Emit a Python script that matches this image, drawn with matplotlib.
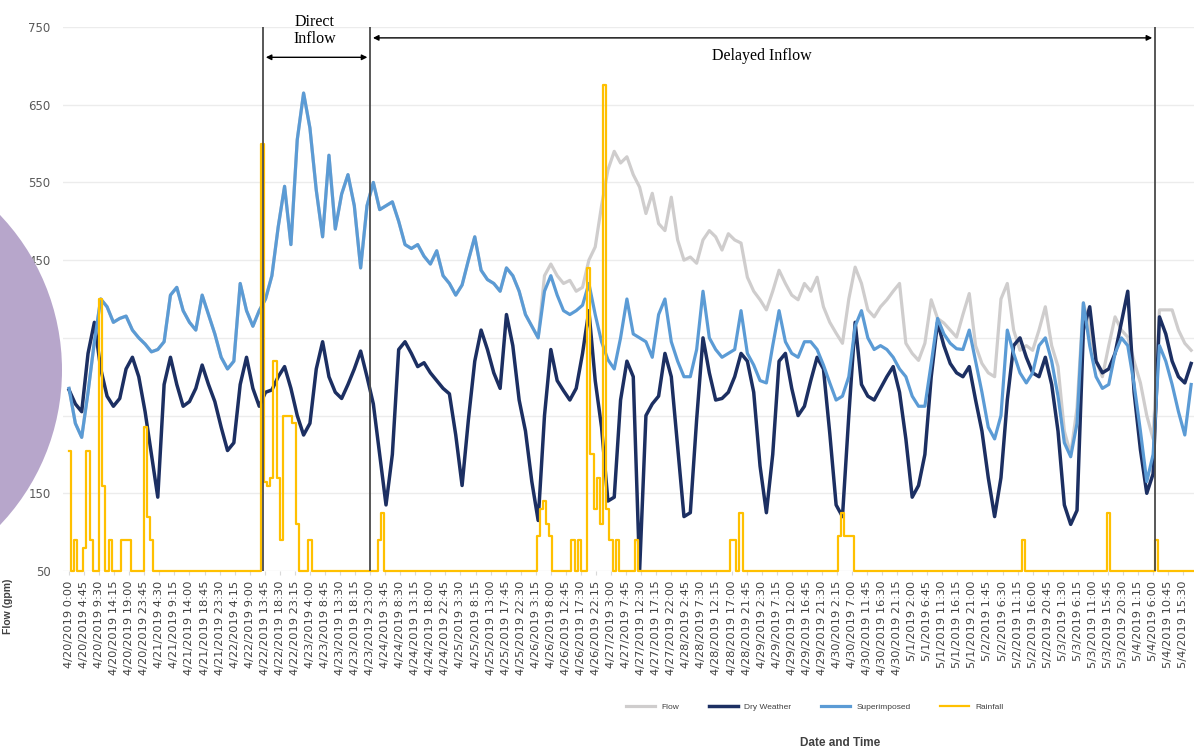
import numpy as np
import pandas as pd
import matplotlib
matplotlib.use("Agg")
import matplotlib.pyplot as plt
from matplotlib.patches import Ellipse

# hours since 4/20/2019 0:00, one reading every 2 hours
hours = np.arange(0, 356, 2)

dry_weather = [
    283, 265, 255, 330, 370, 310, 275, 262, 272, 310,
    325, 300, 255, 200, 145, 290, 325, 290, 262, 268,
    285, 315, 290, 268, 235, 205, 215, 290, 325, 285,
    262, 280, 283, 300, 313, 285, 250, 225, 240, 310,
    345, 300, 280, 272, 290, 310, 333, 300, 265, 200,
    135, 200, 335, 345, 330, 313, 318, 305, 295, 285,
    278, 225, 160, 245, 320, 360, 335, 305, 285, 380,
    340, 270, 230, 165, 115, 250, 335, 295, 282, 270,
    285, 330, 385, 295, 235, 140, 145, 270, 320, 300,
    50, 250, 265, 275, 330, 300, 210, 120, 125, 245,
    350, 305, 270, 272, 280, 300, 330, 320, 280, 185,
    125, 200, 320, 330, 285, 250, 262, 295, 325, 310,
    227, 135, 120, 250, 370, 290, 275, 270, 285, 300,
    313, 280, 220, 145, 160, 200, 300, 370, 340, 317,
    305, 300, 313, 270, 230, 170, 120, 170, 270, 340,
    350, 325, 305, 300, 325, 290, 230, 135, 110, 128,
    360, 390, 320, 305, 310, 330, 370, 410, 280, 206,
    150, 175, 377, 355, 320, 300, 292, 317,
]

superimposed = [
    285, 240, 222, 280, 345, 400, 390, 370, 375, 378,
    360, 350, 342, 332, 335, 345, 405, 415, 385, 370,
    360, 405, 380, 355, 325, 310, 320, 420, 385, 365,
    385, 400, 430, 493, 545, 470, 605, 665, 620, 540,
    480, 585, 490, 535, 560, 520, 440, 520, 550, 515,
    520, 525, 500, 470, 465, 470, 455, 445, 462, 430,
    420, 405, 418, 450, 480, 437, 425, 420, 410, 440,
    430, 410, 380, 365, 350, 410, 430, 405, 385, 380,
    385, 392, 420, 380, 345, 322, 310, 350, 400, 355,
    350, 345, 325, 380, 400, 345, 320, 300, 300, 335,
    410, 350, 335, 325, 330, 335, 385, 330, 315, 295,
    292, 340, 385, 345, 330, 325, 345, 345, 335, 315,
    292, 270, 275, 300, 365, 385, 350, 335, 340, 335,
    325, 310, 300, 275, 262, 262, 317, 375, 355, 343,
    336, 335, 360, 320, 280, 235, 220, 250, 360, 330,
    305, 292, 305, 340, 350, 320, 275, 215, 197, 240,
    395, 340, 300, 285, 290, 330, 350, 340, 290, 230,
    165, 200, 340, 320, 290, 255, 225, 290,
]

# total flow, only differs from superimposed after the 4/26 storm (from hour 150)
flow_after_storm = [
    430, 445, 430, 420, 424, 410, 415, 450, 467, 520,
    566, 590, 575, 583, 560, 544, 510, 536, 497, 488,
    531, 476, 450, 454, 446, 476, 488, 480, 463, 484,
    476, 472, 428, 410, 399, 386, 410, 437, 420, 405,
    399, 420, 410, 428, 390, 370, 356, 343, 400, 441,
    420, 386, 377, 390, 399, 410, 420, 343, 330, 321,
    343, 399, 375, 369, 360, 351, 380, 407, 340, 317,
    305, 300, 400, 420, 360, 334, 340, 334, 360, 390,
    340, 313, 230, 200, 260, 395, 360, 320, 300, 340,
    377, 360, 351, 320, 292, 250, 220, 386, 386, 386,
    360, 343, 334,
]

# rainfall, hourly (only the wet hours listed)
rain_hours = [0, 2, 5, 6, 7, 10, 11, 13, 17, 18, 19, 24, 25, 26,
              61, 62, 63, 64, 65, 66, 67, 68, 69, 70, 71, 72, 76,
              98, 99, 148, 149, 150, 151, 152, 159, 161,
              164, 165, 166, 167, 168, 169, 170, 171, 173, 179,
              209, 210, 212, 243, 244, 245, 246, 247, 301, 328, 343]
rain_amount = [0.155, 0.04, 0.03, 0.155, 0.04, 0.35, 0.11, 0.04, 0.04, 0.04, 0.04, 0.185, 0.07, 0.04,
               0.55, 0.115, 0.11, 0.12, 0.27, 0.12, 0.04, 0.2, 0.2, 0.2, 0.19, 0.06, 0.04,
               0.04, 0.075, 0.045, 0.08, 0.09, 0.06, 0.045, 0.04, 0.04,
               0.39, 0.15, 0.08, 0.12, 0.06, 0.625, 0.08, 0.04, 0.04, 0.04,
               0.04, 0.04, 0.075, 0.045, 0.075, 0.045, 0.045, 0.045, 0.04, 0.075, 0.04]

direct_start, delayed_start, delayed_end = 61.2, 95.0, 342.6

tick_times = pd.date_range("2019-04-20 00:00", periods=75, freq="285min")
tick_labels = [f"{t.month}/{t.day}/{t.year} {t.hour}:{t.minute:02d}" for t in tick_times]
tick_pos = np.arange(75) * 4.75

flow = np.concatenate([superimposed[:75], flow_after_storm])
rain_t = np.arange(0, 356)
rain = np.zeros(len(rain_t))
rain[rain_hours] = rain_amount

plt.rcParams["font.family"] = ["DejaVu Sans"]

fig = plt.figure(figsize=(11.94, 7.52), dpi=100)
ax = fig.add_axes([63 / 1194, 1 - 571 / 752, 1131 / 1194, 544 / 752])

l_flow, = ax.plot(hours, flow, color="#cfcdcd", lw=2.3, label="Flow")
l_dry, = ax.plot(hours, dry_weather, color="#1c2f62", lw=2.5, label="Dry Weather")
l_sup, = ax.plot(hours, superimposed, color="#5b9bd5", lw=2.3, label="Superimposed")

ax2 = ax.twinx()
l_rain, = ax2.plot(rain_t, rain, color="#ffc000", lw=1.6, drawstyle="steps-mid",
                   label="Rainfall", clip_on=False)
ax2.set_ylim(0, 0.70)
ax2.set_yticks([])
for sp in ax2.spines.values():
    sp.set_visible(False)

ax.set_xlim(-1.9, 354.9)
ax.set_ylim(50, 750)
ax.set_yticks(range(50, 751, 100))
ax.grid(axis="y", color="#ececec", lw=1)
ax.set_axisbelow(True)
for sp in ax.spines.values():
    sp.set_visible(False)
ax.tick_params(axis="y", length=0, pad=9, labelsize=8.5, labelcolor="#595959")
ax.set_xticks(tick_pos)
ax.set_xticklabels(tick_labels, rotation=90, fontsize=8.2, color="#404040")
ax.tick_params(axis="x", length=3, color="#d9d9d9", pad=4)

# inflow period markers
for xv in (direct_start, delayed_start, delayed_end):
    ax2.axvline(xv, color="#4a4a4a", lw=1.3, zorder=5)
ax.annotate("", xy=(direct_start, 711), xytext=(delayed_start, 711),
            arrowprops=dict(arrowstyle="<|-|>", color="black", lw=1, mutation_scale=8))
ax.annotate("", xy=(delayed_start, 736), xytext=(delayed_end, 736),
            arrowprops=dict(arrowstyle="<|-|>", color="black", lw=1, mutation_scale=8))
ax.text(77.6, 746, "Direct\nInflow", ha="center", va="center", fontsize=11.5,
        family="Liberation Serif", linespacing=1.1, clip_on=False)
ax.text(218.6, 713, "Delayed Inflow", ha="center", va="center", fontsize=11.5,
        family="Liberation Serif")

fig.legend(handles=[l_flow, l_dry, l_sup, l_rain], loc="center", ncol=4,
           bbox_to_anchor=(815 / 1194, 1 - 707 / 752), frameon=False,
           prop={"family": "Liberation Sans", "size": 6},
           handlelength=3.5, columnspacing=3.5, labelcolor="#404040")
fig.text(8 / 1194, 1 - 606 / 752, "Flow (gpm)", rotation=90, ha="center", va="center",
         fontsize=7.5, fontweight="bold", color="#404040", family="Liberation Sans")
fig.text(840 / 1194, 1 - 743 / 752, "Date and Time", ha="center", va="center",
         fontsize=8.5, fontweight="bold", color="#404040", family="Liberation Sans")

fig.add_artist(Ellipse((-162.8 / 1194, 1 - 370 / 752), 2 * 224.8 / 1194, 2 * 224.8 / 752,
                       transform=fig.transFigure, facecolor="#b7a6cb", edgecolor="none",
                       zorder=20))

fig.savefig("out.png", dpi=100)
